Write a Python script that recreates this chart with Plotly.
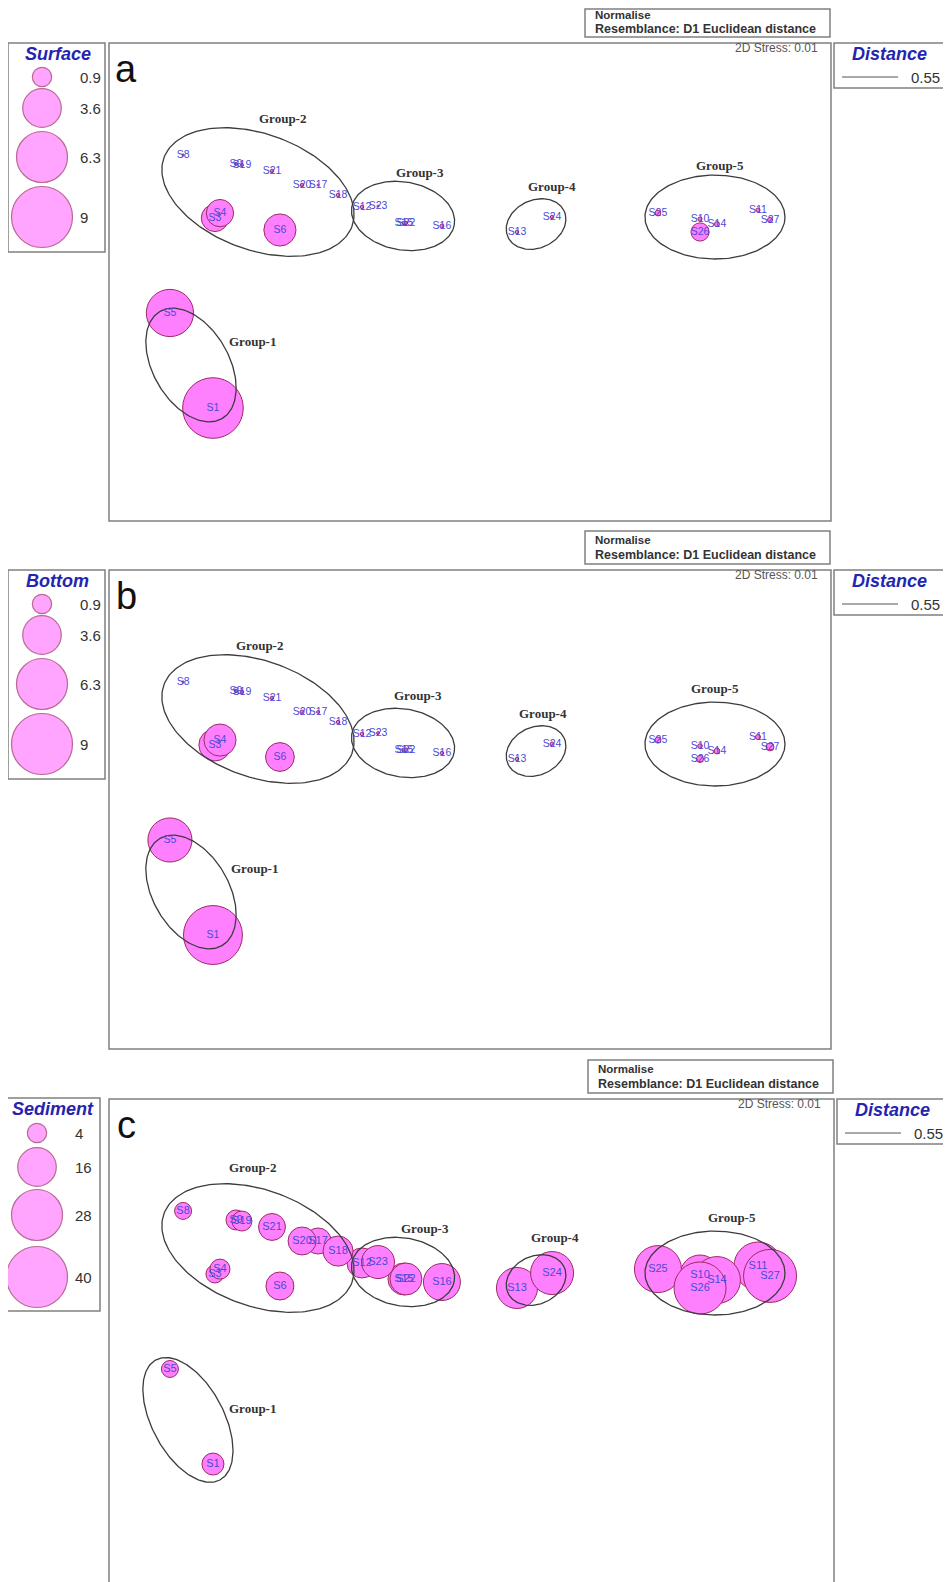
import numpy as np
import plotly.graph_objects as go

W, H = 951, 1582
PAD = 8                      # the page body keeps an 8px margin
FW, FH = W - PAD, H - PAD    # figure size that fills the window

# --- data ----------------------------------------------------------------
samples = ["S1", "S3", "S4", "S5", "S6", "S8", "S9", "S10", "S11", "S12",
           "S13", "S14", "S15", "S16", "S17", "S18", "S19", "S20", "S21", "S22",
           "S23", "S24", "S25", "S26", "S27"]
mds1 = [-1.428, -1.417, -1.389, -1.667, -1.056, -1.594, -1.300, 1.278, 1.600, -0.600,
        0.261, 1.372, -0.367, -0.156, -0.844, -0.733, -1.267, -0.933, -1.100, -0.356,
        -0.511, 0.456, 1.044, 1.278, 1.667]
mds2 = [-0.639, 0.417, 0.444, -0.111, 0.350, 0.767, 0.717, 0.411, 0.461, 0.478,
        0.339, 0.383, 0.389, 0.372, 0.600, 0.544, 0.711, 0.600, 0.678, 0.389,
        0.483, 0.422, 0.444, 0.339, 0.406]
surface = [8.9, 1.8, 1.8, 5.4, 2.5, 0.01, 0.02, 0.04, 0.04, 0.03,
           0.03, 0.06, 0.03, 0.04, 0.01, 0.03, 0.02, 0.03, 0.03, 0.03,
           0.01, 0.03, 0.08, 0.8, 0.06]
bottom = [8.4, 2.5, 2.5, 4.7, 2.0, 0.01, 0.03, 0.05, 0.06, 0.03,
          0.03, 0.08, 0.04, 0.03, 0.02, 0.03, 0.03, 0.04, 0.03, 0.04,
          0.02, 0.04, 0.09, 0.12, 0.15]
sediment = [5.2, 3.5, 4.3, 3.1, 8.4, 3.1, 4.3, 17.2, 24.8, 9.7,
            18.1, 23.7, 11.0, 14.7, 7.3, 9.7, 4.3, 8.4, 7.8, 11.0,
            11.7, 19.9, 23.7, 29.1, 30.2]

groups = ["Group-1", "Group-2", "Group-3", "Group-4", "Group-5"]
# cluster ellipses: centre, semi-axes, rotation (deg)
ell_cx = [-1.550, -1.178, -0.372, 0.367, 1.361]
ell_cy = [-0.400, 0.561, 0.428, 0.383, 0.422]
ell_a = [0.344, 0.556, 0.289, 0.172, 0.389]
ell_b = [0.211, 0.322, 0.189, 0.133, 0.233]
ell_ang = [-60, -20, -10, 25, 0]
# panel c draws Group-1 a bit longer
ell_c_group1 = (-1.567, -0.394, 0.378, 0.200, -62)

# group label positions per panel
glab_a_x = [-1.211, -1.044, -0.278, 0.456, 1.389]
glab_a_y = [-0.272, 0.972, 0.672, 0.589, 0.711]
glab_b_x = [-1.200, -1.172, -0.289, 0.406, 1.361]
glab_b_y = [-0.272, 0.972, 0.689, 0.594, 0.733]
glab_c_x = [-1.206, -1.206, -0.250, 0.472, 1.456]
glab_c_y = [-0.328, 1.011, 0.672, 0.622, 0.728]

surface_leg = [0.9, 3.6, 6.3, 9]
sediment_leg = [4, 16, 28, 40]
distance_leg = "0.55"
stress = "2D Stress: 0.01"

# --- styling / layout -----------------------------------------------------
PX = 180.0            # pixels per MDS unit
X0, Y0 = 470, 293     # pixel of MDS origin in panel a
MAXD = 61             # legend's largest bubble diameter
FILL = "#ff80ff"
EDGE = "#9c2a64"
LABEL = "#4a4ad8"
BLUE = "#2424b0"
GREY = "#808080"
SANS = "Liberation Sans"

panels = [
    dict(letter="a", top=43, bottom=521, right=831, dx=0, vals=surface, title="Surface",
         leg=surface_leg, legx=42, legy=[77, 108, 157, 217], legbox=(8, 105, 43, 252),
         glx=glab_a_x, gly=glab_a_y, fs=10.5),
    dict(letter="b", top=570, bottom=1049, right=831, dx=0, vals=bottom, title="Bottom",
         leg=surface_leg, legx=42, legy=[604, 635, 684, 744], legbox=(8, 105, 570, 779),
         glx=glab_b_x, gly=glab_b_y, fs=10.5),
    dict(letter="c", top=1099, bottom=1600, right=834, dx=3, vals=sediment, title="Sediment",
         leg=sediment_leg, legx=37, legy=[1133, 1167, 1215, 1277], legbox=(3, 100, 1098, 1311),
         glx=glab_c_x, gly=glab_c_y, fs=11),
]


def fx(px):
    return (px - PAD) / FW


def fy(py):
    return 1 - (py - PAD) / FH


def ellipse(cx, cy, a, b, ang):
    t = np.linspace(0, 2 * np.pi, 200)
    th = np.radians(ang)
    x = cx + a * np.cos(t) * np.cos(th) - b * np.sin(t) * np.sin(th)
    y = cy + a * np.cos(t) * np.sin(th) + b * np.sin(t) * np.cos(th)
    return x, y


fig = go.Figure()
layout = {}
shapes = []
annotations = []

OV = dict(xref="x4", yref="y4")

for i, p in enumerate(panels):
    n = i + 1
    sfx = "" if n == 1 else str(n)
    off = p["top"] - 43
    bot = min(p["bottom"], H)
    layout["xaxis" + sfx] = dict(domain=[fx(109), fx(p["right"])],
                                 range=[(109 - X0) / PX, (p["right"] - X0) / PX],
                                 visible=False)
    layout["yaxis" + sfx] = dict(domain=[max(0, fy(bot)), fy(p["top"])],
                                 range=[(Y0 - (bot - off)) / PX, (Y0 - 43) / PX],
                                 visible=False)
    xr, yr = "x" + sfx, "y" + sfx
    # plotly's area mode halves the value first, hence the factor 2
    sref = 2 * max(p["leg"]) / MAXD ** 2

    # bubbles
    fig.add_trace(go.Scatter(
        x=mds1, y=mds2, mode="markers", xaxis=xr, yaxis=yr,
        marker=dict(size=p["vals"], sizemode="area", sizeref=sref,
                    color=FILL, opacity=1, line=dict(color=EDGE, width=1)),
        hoverinfo="skip", showlegend=False, cliponaxis=False))

    # cluster ellipses
    for g in range(len(groups)):
        if p["letter"] == "c" and g == 0:
            ex, ey = ellipse(*ell_c_group1)
        else:
            ex, ey = ellipse(ell_cx[g], ell_cy[g], ell_a[g], ell_b[g], ell_ang[g])
        fig.add_trace(go.Scatter(x=ex, y=ey, mode="lines", xaxis=xr, yaxis=yr,
                                 line=dict(color="#3c3c3c", width=1.3),
                                 hoverinfo="skip", showlegend=False))

    # sample labels
    fig.add_trace(go.Scatter(
        x=mds1, y=mds2, mode="text", text=samples, xaxis=xr, yaxis=yr,
        textposition="middle center",
        textfont=dict(family=SANS, size=p["fs"], color=LABEL),
        hoverinfo="skip", showlegend=False))

    for g, name in enumerate(groups):
        annotations.append(dict(x=p["glx"][g], y=p["gly"][g], xref=xr, yref=yr,
                                text="<b>" + name + "</b>", showarrow=False,
                                font=dict(family="Liberation Serif", size=13, color="#333333")))

    # frames
    dx = p["dx"]
    shapes.append(dict(type="rect", **OV, x0=109, x1=p["right"], y0=p["top"], y1=p["bottom"],
                       line=dict(color=GREY, width=1.5)))
    shapes.append(dict(type="rect", **OV, x0=585 + dx, x1=830 + dx, y0=max(4 + off, PAD + 1),
                       y1=37 + off, line=dict(color=GREY, width=1.5)))
    shapes.append(dict(type="rect", **OV, x0=834 + dx, x1=944 + dx, y0=43 + off, y1=88 + off,
                       line=dict(color=GREY, width=1.5)))
    lb = p["legbox"]
    shapes.append(dict(type="rect", **OV, x0=lb[0], x1=lb[1], y0=lb[2], y1=lb[3],
                       line=dict(color=GREY, width=1.5)))
    shapes.append(dict(type="line", **OV, x0=842 + dx, x1=898 + dx, y0=77 + off, y1=77 + off,
                       line=dict(color="#555555", width=1)))

    # texts
    annotations += [
        dict(**OV, x=593 + dx, y=max(13 + off, PAD + 7), text="<b>Normalise</b>", xanchor="left",
             showarrow=False, font=dict(family=SANS, size=11.5, color="#333333")),
        dict(**OV, x=593 + dx, y=max(28 + off, PAD + 21),
             text="<b>Resemblance: D1 Euclidean distance</b>",
             xanchor="left", showarrow=False, font=dict(family=SANS, size=12.5, color="#333333")),
        dict(**OV, x=820 + dx, y=48 + off, text=stress, xanchor="right", showarrow=False,
             font=dict(family=SANS, size=12, color="#555555")),
        dict(**OV, x=889 + dx, y=54 + off, text="<b><i>Distance</i></b>", showarrow=False,
             font=dict(family=SANS, size=18, color=BLUE)),
        dict(**OV, x=942 + dx, y=77 + off, text=distance_leg, xanchor="right", showarrow=False,
             font=dict(family=SANS, size=15, color="#333333")),
        dict(**OV, x=126, y=69 + off, text=p["letter"], showarrow=False,
             font=dict(family=SANS, size=38, color="#111111")),
        dict(**OV, x=(lb[0] + lb[1]) / 2 + 1, y=lb[2] + 11, text="<b><i>" + p["title"] + "</i></b>",
             showarrow=False, font=dict(family=SANS, size=18, color=BLUE)),
    ]

    # size legend
    fig.add_trace(go.Scatter(
        x=[p["legx"]] * len(p["leg"]), y=p["legy"], mode="markers", xaxis="x4", yaxis="y4",
        marker=dict(size=p["leg"], sizemode="area", sizeref=sref,
                    color=FILL, line=dict(color=EDGE, width=1.2)),
        hoverinfo="skip", showlegend=False))
    for v, yy in zip(p["leg"], p["legy"]):
        annotations.append(dict(**OV, x=p["legx"] + 36, y=yy, text=f"{v:g}", xanchor="left",
                                showarrow=False, font=dict(family=SANS, size=15, color="#333333")))

# full-window pixel axis for frames, legends and captions
layout["xaxis4"] = dict(domain=[0, 1], range=[PAD, PAD + FW], visible=False)
layout["yaxis4"] = dict(domain=[0, 1], range=[PAD + FH, PAD], visible=False)

fig.update_layout(
    width=FW, height=FH,
    margin=dict(l=0, r=0, t=0, b=0),
    paper_bgcolor="white", plot_bgcolor="rgba(0,0,0,0)",
    showlegend=False,
    shapes=shapes, annotations=annotations,
    **layout,
)

fig.write_html("out.html")
